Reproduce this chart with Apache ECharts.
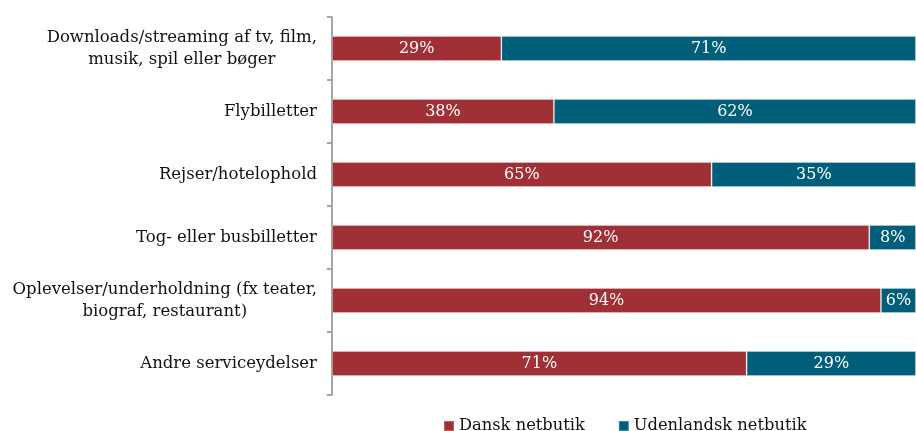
<!DOCTYPE html>
<html>
<head>
<meta charset="utf-8">
<script src="https://cdn.jsdelivr.net/npm/echarts@6/dist/echarts.min.js"></script>
<style>
html,body{margin:0;padding:0;background:#fff;}
#chart{width:916px;height:431px;}
</style>
</head>
<body>
<div id="chart"></div>
<script>
var categories = [
  "Downloads/streaming af tv, film,\nmusik, spil eller bøger",
  "Flybilletter",
  "Rejser/hotelophold",
  "Tog- eller busbilletter",
  "Oplevelser/underholdning (fx teater,\nbiograf, restaurant)",
  "Andre serviceydelser"
];
var danskValues = [29, 38, 65, 92, 94, 71];
var udenlandskValues = [71, 62, 35, 8, 6, 29];
var seriesNames = ["Dansk netbutik", "Udenlandsk netbutik"];

var FONT = "DejaVu Serif";
var chart = echarts.init(document.getElementById('chart'), null, {renderer: 'canvas'});

function catFormatter(v) {
  return v.split('\n').map(function (l) { return '{c|' + l + '}'; }).join('\n');
}

var option = {
  animation: false,
  grid: {left: 332, right: 0, top: 17, bottom: 36, containLabel: false},
  xAxis: {
    type: 'value', min: 0, max: 100, show: false
  },
  yAxis: {
    type: 'category',
    data: categories,
    inverse: true,
    axisLine: {show: true, lineStyle: {color: '#A6A6A6', width: 2}},
    axisTick: {show: true, length: 5, lineStyle: {color: '#A6A6A6', width: 2}},
    axisLabel: {
      margin: 15,
      align: 'right',
      color: '#111',
      fontFamily: FONT,
      fontSize: 16.5,
      lineHeight: 22,
      formatter: catFormatter,
      rich: {c: {align: 'center', fontFamily: FONT, fontSize: 16.5, lineHeight: 22, color: '#111'}}
    }
  },
  legend: {
    data: seriesNames,
    left: 438,
    top: 413,
    itemWidth: 10,
    itemHeight: 10,
    itemGap: 33,
    icon: 'rect',
    textStyle: {fontFamily: FONT, fontSize: 16.3, color: '#111'}
  },
  series: [
    {
      name: seriesNames[0],
      type: 'bar',
      stack: 'total',
      data: danskValues,
      barWidth: 25,
      itemStyle: {color: '#A12F36', borderColor: 'rgba(255,255,255,0.25)', borderWidth: 1},
      label: {show: true, position: 'inside', color: '#fff', fontFamily: FONT, fontSize: 16, formatter: '{c}%'}
    },
    {
      name: seriesNames[1],
      type: 'bar',
      stack: 'total',
      data: udenlandskValues,
      barWidth: 25,
      itemStyle: {color: '#005E7A', borderColor: 'rgba(255,255,255,0.25)', borderWidth: 1},
      label: {show: true, position: 'inside', color: '#fff', fontFamily: FONT, fontSize: 16, formatter: '{c}%'}
    }
  ]
};
chart.setOption(option);
</script>
</body>
</html>
